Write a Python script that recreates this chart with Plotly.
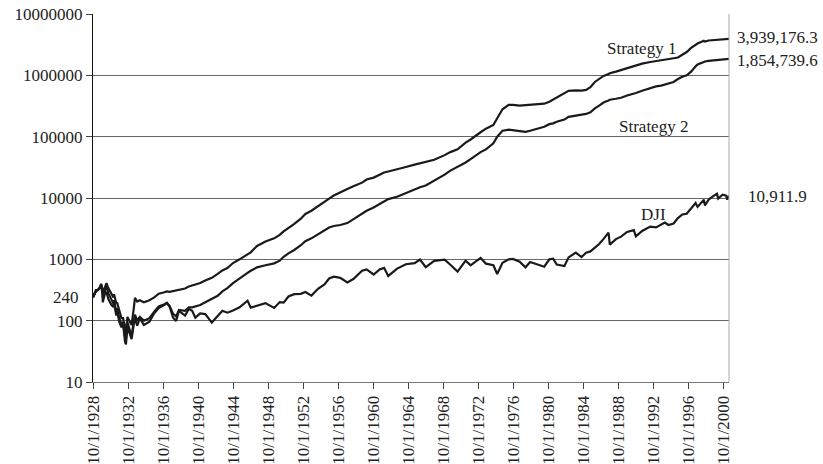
import plotly.graph_objects as go

# Observation dates (monthly turning points and period ends)
dates = [
    "1928-10-01", "1929-01-31", "1929-04-30", "1929-07-31", "1929-09-03", "1929-10-31",
    "1929-11-13", "1930-01-31", "1930-04-17", "1930-06-30", "1930-10-31", "1931-01-31",
    "1931-02-24", "1931-06-01", "1931-06-30", "1931-09-30", "1931-12-31", "1932-03-08",
    "1932-05-31", "1932-07-08", "1932-09-07", "1932-12-31", "1933-02-27", "1933-05-31",
    "1933-07-18", "1933-10-21", "1934-02-05", "1934-07-26", "1935-03-14", "1935-09-30",
    "1936-04-06", "1936-11-30", "1937-03-10", "1937-06-30", "1937-11-23", "1938-03-31",
    "1938-07-30", "1939-04-08", "1939-09-12", "1940-01-31", "1940-06-10", "1940-12-31",
    "1941-07-31", "1942-04-28", "1942-12-31", "1943-07-14", "1944-02-07", "1944-09-30",
    "1945-06-30", "1946-05-29", "1946-10-09", "1947-06-30", "1948-06-15", "1949-06-13",
    "1950-01-31", "1950-07-13", "1951-01-31", "1951-09-30", "1952-06-30", "1953-01-05",
    "1953-09-14", "1954-06-30", "1955-03-14", "1955-09-23", "1956-04-06", "1956-12-31",
    "1957-10-22", "1958-06-30", "1959-06-30", "1960-01-05", "1960-10-25", "1961-06-30",
    "1962-01-03", "1962-06-26", "1963-06-30", "1964-06-30", "1965-06-30", "1966-02-09",
    "1966-10-07", "1967-09-25", "1968-12-03", "1969-07-31", "1970-05-26", "1971-04-28",
    "1971-11-23", "1972-06-30", "1973-01-11", "1973-08-22", "1974-06-30", "1974-12-06",
    "1975-07-15", "1976-03-31", "1976-09-21", "1977-06-30", "1978-02-28", "1978-09-08",
    "1979-06-29", "1980-04-21", "1980-11-20", "1981-04-27", "1981-09-25", "1982-08-12",
    "1983-01-31", "1983-11-29", "1984-07-24", "1985-01-31", "1985-07-31", "1986-01-31",
    "1986-07-31", "1987-01-31", "1987-08-25", "1987-10-19", "1988-06-30", "1989-01-31",
    "1989-10-09", "1990-07-16", "1990-10-11", "1991-06-28", "1992-06-01", "1993-01-29",
    "1993-08-31", "1994-01-31", "1994-06-30", "1995-01-31", "1995-07-31", "1996-01-31",
    "1996-07-31", "1997-01-31", "1997-08-06", "1997-10-27", "1998-07-17", "1998-08-31",
    "1999-01-29", "1999-07-30", "2000-01-14", "2000-03-07", "2000-09-06", "2001-01-31",
    "2001-03-22", "2001-05-31",
]

dji = [
    240, 317, 319, 348, 381, 273,
    199, 267, 294, 226, 183, 167,
    194, 121, 150, 96, 78, 89,
    45, 41, 79, 60, 50, 89,
    108, 83, 110, 85, 96, 132,
    161, 182, 194, 170, 113, 99,
    145, 121, 155, 145, 112, 131,
    128, 93, 119, 145, 135, 146,
    165, 212, 163, 177, 193, 161,
    201, 197, 248, 271, 274, 293,
    256, 334, 391, 487, 521, 500,
    419, 478, 650, 685, 566, 684,
    726, 536, 707, 831, 868, 995,
    744, 943, 985, 815, 631, 950,
    798, 929, 1052, 851, 802, 578,
    881, 1000, 1015, 916, 742, 907,
    842, 759, 1000, 1024, 824, 777,
    1076, 1287, 1087, 1286, 1347, 1571,
    1775, 2158, 2722, 1739, 2141, 2342,
    2791, 2999, 2365, 2906, 3413, 3310,
    3651, 3978, 3625, 3844, 4708, 5395,
    5529, 6813, 8259, 7161, 9338, 7539,
    9359, 10655, 11723, 9796, 11310, 10887,
    9389, 10911.9,
]

strategy1 = [
    240, 300, 320, 360, 400, 330,
    280, 330, 410, 340, 280, 240,
    270, 190, 200, 140, 110, 110,
    75, 65, 115, 95, 85, 160,
    235, 205, 215, 200, 215, 240,
    275, 290, 300, 295, 305, 310,
    320, 335, 360, 375, 390, 410,
    450, 500, 580, 660, 720, 870,
    1000, 1180, 1300, 1650, 1950, 2200,
    2500, 2850, 3200, 3800, 4600, 5500,
    6200, 7500, 8800, 9800, 11000, 12500,
    14000, 15500, 17800, 20000, 21500, 24000,
    26000, 27000, 29000, 32000, 35000, 37000,
    38500, 42000, 50000, 56000, 62000, 80000,
    90000, 105000, 118000, 135000, 155000, 200000,
    280000, 330000, 330000, 320000, 325000, 330000,
    340000, 345000, 370000, 400000, 430000, 500000,
    560000, 570000, 565000, 580000, 640000, 780000,
    880000, 980000, 1050000, 1080000, 1150000, 1220000,
    1300000, 1420000, 1450000, 1550000, 1650000, 1720000,
    1780000, 1830000, 1850000, 1900000, 1950000, 2150000,
    2400000, 2800000, 3200000, 3300000, 3650000, 3550000,
    3700000, 3750000, 3850000, 3800000, 3900000, 3880000,
    3900000, 3939176.3,
]

strategy2 = [
    240, 305, 315, 350, 390, 300,
    240, 300, 370, 280, 220, 190,
    215, 140, 160, 110, 88, 95,
    55, 50, 95, 70, 55, 100,
    125, 100, 115, 100, 110, 140,
    170, 185, 195, 175, 130, 117,
    150, 145, 165, 165, 170, 180,
    200, 225, 255, 300, 340, 410,
    480, 600, 650, 740, 800, 860,
    950, 1100, 1250, 1420, 1700, 1980,
    2200, 2600, 2950, 3300, 3500, 3630,
    3900, 4500, 5400, 6200, 7000, 8000,
    9000, 9600, 10500, 12000, 14000, 15000,
    16000, 19000, 24000, 28000, 32000, 38000,
    43000, 50000, 56000, 62000, 78000, 100000,
    125000, 130000, 128000, 122000, 120000, 125000,
    135000, 145000, 160000, 165000, 175000, 190000,
    210000, 220000, 225000, 235000, 250000, 290000,
    320000, 360000, 390000, 400000, 415000, 430000,
    470000, 500000, 515000, 560000, 620000, 660000,
    680000, 705000, 720000, 780000, 870000, 950000,
    1000000, 1150000, 1400000, 1500000, 1650000, 1680000,
    1720000, 1750000, 1780000, 1760000, 1820000, 1800000,
    1820000, 1854739.6,
]

tick_years = list(range(1928, 2001, 4))
tick_dates = [f"{y}-10-01" for y in tick_years]
tick_text = [f"10/1/{y}" for y in tick_years]

y_ticks = [10, 100, 1000, 10000, 100000, 1000000, 10000000]
y_text = [str(v) for v in y_ticks]

end_labels = ["3,939,176.3", "1,854,739.6", "10,911.9"]
series_names = ["Strategy 1", "Strategy 2", "DJI"]

FONT = "Liberation Serif"
INK = "#1a1a1a"

fig = go.Figure()
for name, vals in zip(series_names, [strategy1, strategy2, dji]):
    fig.add_trace(go.Scatter(
        x=dates, y=vals, mode="lines", name=name,
        line=dict(color=INK, width=2.2),
        showlegend=False,
    ))

fig.update_layout(
    width=823, height=464,
    margin=dict(l=93, r=94, t=14, b=82),
    paper_bgcolor="white", plot_bgcolor="white",
    font=dict(family=FONT, size=17, color="#222"),
    xaxis=dict(
        type="date", automargin=False,
        range=["1928-10-01", "2001-05-31"],
        tickmode="array", tickvals=tick_dates, ticktext=tick_text,
        tickangle=-90, ticks="outside", ticklen=6, tickcolor="#444",
        showgrid=False, zeroline=False,
        showline=True, linecolor="#777", linewidth=1,
        tickfont=dict(family=FONT, size=17, color="#222"),
    ),
    yaxis=dict(
        type="log", range=[1, 7], automargin=False,
        tickmode="array", tickvals=y_ticks, ticktext=y_text,
        ticks="outside", ticklen=6, tickcolor="#444",
        showgrid=True, gridcolor="#666", gridwidth=1,
        showline=True, linecolor="#111", linewidth=1,
        zeroline=False,
        tickfont=dict(family=FONT, size=17, color="#222"),
    ),
)

# right-hand plot border
fig.add_shape(type="line", xref="paper", yref="paper", x0=1, x1=1, y0=0, y1=1,
              line=dict(color="#aaa", width=1))

# starting value marker on the value axis
fig.add_annotation(xref="paper", yref="y", x=0, y=2.380211, text="240",
                   showarrow=False, xanchor="right", xshift=-12,
                   font=dict(family=FONT, size=17, color="#222"))

# series names inside the plot
name_pos = [(0.863, 0.905), (0.881, 0.693), (0.881, 0.456)]
for name, (px, py) in zip(series_names, name_pos):
    fig.add_annotation(xref="paper", yref="paper", x=px, y=py, text=name,
                       showarrow=False, xanchor="center", yanchor="middle",
                       font=dict(family=FONT, size=17, color="#222"))

# final values to the right of the plot
end_pos = [(1.0094, 0.935, "left"), (1.0094, 0.873, "left"), (1.077, 0.503, "center")]
for txt, (px, py, anc) in zip(end_labels, end_pos):
    fig.add_annotation(xref="paper", yref="paper", x=px, y=py, text=txt,
                       showarrow=False, xanchor=anc, yanchor="middle",
                       font=dict(family=FONT, size=17, color="#222"))

fig.write_html("out.html")
